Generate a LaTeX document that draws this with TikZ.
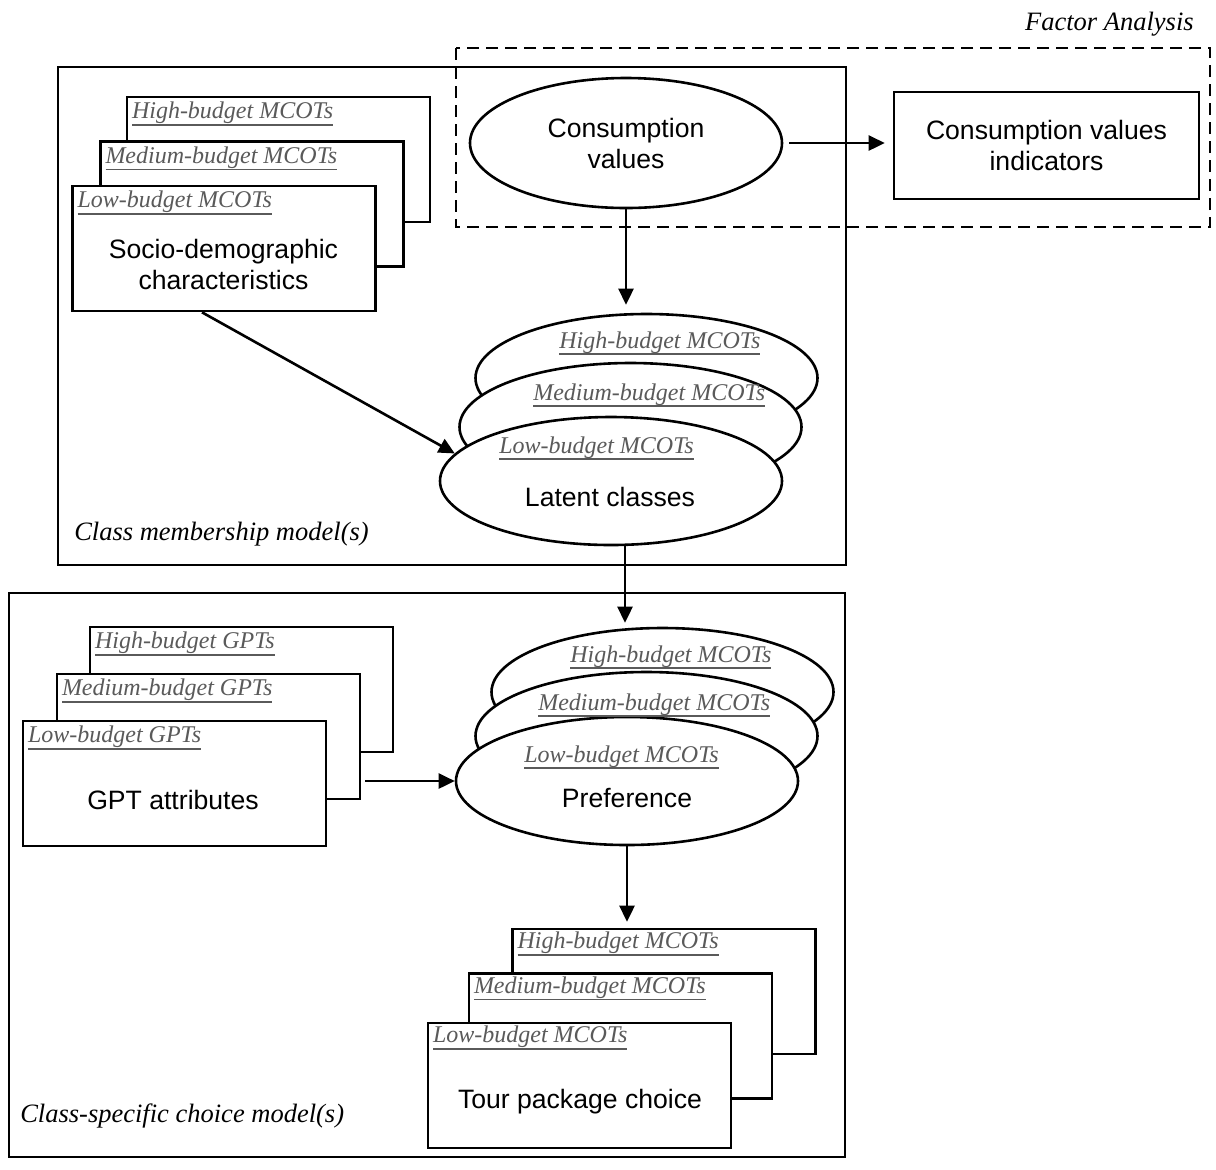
\documentclass[tikz,border=0pt]{standalone}
\usepackage{fontspec}
\setmainfont{Liberation Serif}
\setsansfont{Liberation Sans}
\usetikzlibrary{arrows.meta,shapes.geometric}

\definecolor{lblgray}{RGB}{90,90,90}
\newcommand{\budget}[1]{\setbox0\hbox{#1}\rlap{\rule[-3.6pt]{\wd0}{0.9pt}}\box0}

\begin{document}
\begin{tikzpicture}[x=0.5pt,y=-0.5pt,line width=1.3pt,
    stackbox/.style={draw,fill=white,rectangle,minimum width=151.5pt,minimum height=62.5pt,inner sep=0pt},
    stackell/.style={draw,fill=white,ellipse,minimum width=171pt,minimum height=64pt,inner sep=0pt},
    budgetlbl/.style={anchor=base west,font=\itshape\fontsize{12}{14}\selectfont,text=lblgray,inner sep=0pt},
    maintext/.style={font=\sffamily\fontsize{13.3}{15.5}\selectfont,align=center,inner sep=0pt},
    modeltitle/.style={font=\itshape\fontsize{13.25}{15}\selectfont,inner sep=0pt},
    flow/.style={-{Triangle[length=8pt,width=7.5pt]}}]
      \useasboundingbox (0,0) rectangle (1216,1169);

      % model boxes
      \draw (58,67) rectangle (846,565);
      \draw (9,593) rectangle (845,1157);
      \draw[dash pattern=on 6pt off 3.5pt] (456,48) rectangle (1210,227);
      \node[modeltitle,anchor=base east] (fa) at (1195,30) {Factor Analysis};
      \node[modeltitle,anchor=base west] (cmm) at (73,540) {Class membership model(s)};
      \node[modeltitle,anchor=base west] (cscm) at (19,1122) {Class-specific choice model(s)};

      % factor analysis
      \node[draw,ellipse,minimum width=156pt,minimum height=65pt,maintext] (cons) at (626,143) {Consumption\\values};
      \node[draw,rectangle,minimum width=152.5pt,minimum height=53.5pt,maintext] (ind) at (1046.5,145.5) {Consumption values\\indicators};

      % socio-demographic stack
      \node[stackbox] (soch) at (278.5,159.5) {};
      \node[stackbox] (socm) at (252,204) {};
      \node[stackbox] (socl) at (224,248.5) {};
      \foreach \n/\t in {soch/High,socm/Medium,socl/Low} {
        \node[budgetlbl] (\n-lbl) at ([shift={(5,23)}]\n.north west) {\budget{\t-budget MCOTs}};
      }
      \node[maintext] (soctxt) at (223.5,264) {Socio-demographic\\characteristics};

      % latent classes stack
      \node[stackell] (lath) at (646.5,378) {};
      \node[stackell] (latm) at (630.5,427) {};
      \node[stackell] (latl) at (611,481) {};
      \foreach \n/\t/\p in {lath/High/{(558,348)},latm/Medium/{(532,400)},latl/Low/{(498,453)}} {
        \node[budgetlbl] (\n-lbl) at \p {\budget{\t-budget MCOTs}};
      }
      \node[maintext] (lattxt) at (610,497) {Latent classes};

      % GPT stack
      \node[stackbox] (gpth) at (241.5,689.5) {};
      \node[stackbox] (gptm) at (208.5,736.5) {};
      \node[stackbox] (gptl) at (174.5,783.5) {};
      \foreach \n/\t in {gpth/High,gptm/Medium,gptl/Low} {
        \node[budgetlbl] (\n-lbl) at ([shift={(5,23)}]\n.north west) {\budget{\t-budget GPTs}};
      }
      \node[maintext] (gpttxt) at (173,800) {GPT attributes};

      % preference stack
      \node[stackell] (prefh) at (662.5,692) {};
      \node[stackell] (prefm) at (646.5,736) {};
      \node[stackell] (prefl) at (627,781) {};
      \foreach \n/\t/\p in {prefh/High/{(569,662)},prefm/Medium/{(537,710)},prefl/Low/{(523,762)}} {
        \node[budgetlbl] (\n-lbl) at \p {\budget{\t-budget MCOTs}};
      }
      \node[maintext] (preftxt) at (627,798) {Preference};

      % tour package stack
      \node[stackbox] (tourh) at (664,991.5) {};
      \node[stackbox] (tourm) at (620.5,1036) {};
      \node[stackbox] (tourl) at (579.5,1085.5) {};
      \foreach \n/\t in {tourh/High,tourm/Medium,tourl/Low} {
        \node[budgetlbl] (\n-lbl) at ([shift={(5,21)}]\n.north west) {\budget{\t-budget MCOTs}};
      }
      \node[maintext] (tourtxt) at (580,1102) {Tour package choice};

      % arrows
      \draw[flow,shorten <=3pt,shorten >=4pt] (cons.east) -- (cons.east -| ind.west);
      \draw[flow,shorten >=4pt] (cons.south) -- (cons.south |- lath.north);
      \draw[flow] ([shift={(-22,0)}]socl.south) -- (latl.170);
      \draw[flow,shorten >=2pt] ([shift={(14,0)}]latl.south) -- ([shift={(14,0)}]latl.south |- prefh.north);
      \draw[flow,shorten <=2pt] (gptm.east |- prefl.west) -- (prefl.west);
      \draw[flow,shorten >=3pt] (prefl.south) -- (prefl.south |- tourh.north);
    \end{tikzpicture}
\end{document}
